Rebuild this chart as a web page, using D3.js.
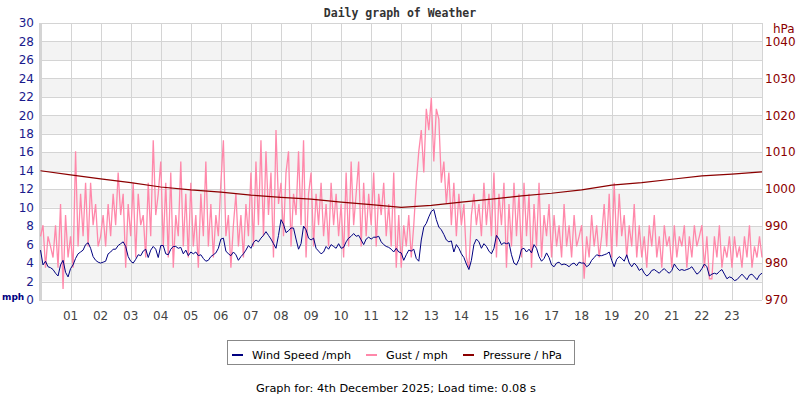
<!DOCTYPE html>
<html>
<head>
<meta charset="utf-8">
<script src="https://cdn.jsdelivr.net/npm/d3@7/dist/d3.min.js"></script>
<style>
    body { margin: 0; background: #fff; }
    text { font-family: "DejaVu Sans", sans-serif; }
    text.title { font-family: "DejaVu Sans Mono", monospace; }
</style>
</head>
<body>
<svg width="800" height="400"></svg>
<script>
// samples every 5 minutes, 00:00 .. 24:00
var stepsPerHour = 12;

var windSpeed = [
    5.4,3.8,4.2,3.6,3.5,3.3,2.9,2.6,3.8,4.3,3.0,2.5,
    3.4,3.8,4.5,5.0,5.2,5.4,6.0,6.2,5.6,4.7,4.3,4.1,
    4.0,4.1,4.2,5.0,5.2,5.5,5.5,5.9,6.1,6.3,5.8,4.7,
    4.2,4.0,4.4,4.9,4.8,5.3,5.5,4.6,5.4,5.8,5.5,4.6,
    5.9,5.9,5.0,4.9,5.5,5.8,5.8,5.6,5.7,5.0,5.4,4.8,
    5.2,5.0,5.2,4.8,4.9,4.5,4.2,4.3,4.7,4.9,5.1,5.6,
    6.6,6.7,5.3,5.0,4.8,5.2,4.9,4.3,4.7,5.0,5.4,5.9,
    5.6,6.2,6.5,6.3,6.7,7.0,7.4,7.0,6.6,6.1,5.6,7.0,
    8.7,8.2,7.3,7.5,7.8,7.8,6.6,5.5,6.1,8.0,7.6,6.7,
    6.5,6.7,5.6,5.3,5.0,5.2,5.8,5.5,6.0,5.8,5.6,6.1,
    5.6,5.7,6.3,6.7,6.9,7.2,6.9,7.0,6.5,6.0,6.6,6.8,
    6.6,6.8,6.8,6.9,6.3,6.0,5.8,5.7,5.5,5.2,5.6,5.2,
    5.1,4.3,4.9,5.4,5.3,5.5,4.5,4.2,6.5,7.9,8.3,9.0,
    9.6,9.8,8.7,7.9,7.6,7.1,6.5,6.3,6.4,5.2,6.0,5.6,
    5.0,4.6,3.9,3.3,4.3,6.0,6.6,6.3,5.6,6.1,5.8,5.3,
    5.0,5.6,7.0,6.6,6.0,6.2,6.1,6.2,4.9,4.0,3.8,4.4,
    5.5,5.6,5.2,5.5,5.1,6.0,5.6,4.7,4.2,4.5,5.1,4.6,
    3.8,3.6,4.0,4.1,3.8,3.9,3.8,3.6,3.9,4.0,3.7,4.1,
    4.0,4.0,3.6,3.8,4.3,4.6,4.9,4.8,4.8,4.9,5.0,5.2,
    4.3,3.6,4.4,4.7,4.5,4.2,4.9,4.0,3.6,4.0,3.7,3.2,
    3.4,2.9,2.6,2.8,3.2,3.3,3.1,2.9,3.2,3.4,3.1,2.9,
    3.2,3.9,3.5,3.2,3.3,3.2,3.3,3.4,3.6,3.2,2.8,3.0,
    3.4,3.9,3.6,2.6,2.8,2.9,2.8,3.1,3.3,2.8,2.3,2.5,
    2.4,2.1,2.2,2.5,2.8,2.5,2.2,2.7,2.8,2.5,2.2,2.7,2.9
];

var gust = [
    6.9,8.1,3.5,6.9,5.8,4.6,8.1,3.5,10.4,1.2,9.2,4.6,
    6.9,3.5,16.1,5.8,11.5,6.9,12.7,5.8,12.7,8.1,10.4,5.8,
    6.9,9.2,5.8,10.4,6.9,11.5,8.1,13.8,9.2,11.5,3.5,10.4,
    6.9,12.7,4.6,11.5,8.1,9.2,4.6,12.7,6.9,17.3,9.2,11.5,
    15.0,5.8,12.7,4.6,13.8,3.5,9.2,6.9,15.0,5.8,11.5,4.6,
    12.7,5.8,9.2,3.5,11.5,6.9,15.0,5.8,10.4,4.6,9.2,6.9,
    12.7,17.3,6.9,9.2,3.5,8.1,11.5,5.8,9.2,4.6,10.4,6.9,
    13.8,5.8,15.0,8.1,17.3,6.9,16.1,9.2,13.8,4.6,18.4,10.4,
    12.7,6.9,13.8,16.1,5.8,11.5,9.2,16.1,8.1,17.3,4.6,11.5,
    13.8,5.8,11.5,8.1,12.7,6.9,10.4,5.8,12.7,8.1,11.5,6.9,
    10.4,4.6,13.8,5.8,15.0,8.1,11.5,15.0,5.8,12.7,6.9,11.5,
    8.1,13.8,5.8,11.5,9.2,12.7,6.9,10.4,5.8,13.8,3.5,9.2,
    3.5,8.1,5.8,9.2,4.6,8.1,12.7,16.1,18.4,13.8,20.7,18.4,
    21.9,15.0,20.7,19.6,12.7,15.0,10.4,13.8,8.1,12.7,6.9,11.5,
    8.1,10.4,4.6,3.5,9.2,11.5,8.1,10.4,6.9,12.7,8.1,11.5,
    6.9,13.8,4.6,11.5,8.1,12.7,3.5,10.4,5.8,12.7,6.9,11.5,
    4.6,12.7,6.9,11.5,3.5,10.4,5.8,12.7,4.6,9.2,6.9,10.4,
    4.6,9.2,5.8,8.1,4.6,10.4,5.8,8.1,4.6,9.2,5.8,6.9,
    8.1,2.3,6.9,4.6,9.2,5.8,8.1,4.6,6.9,10.4,5.8,11.5,
    4.6,12.7,5.8,11.5,6.9,9.2,4.6,8.1,5.8,10.4,4.6,8.1,
    4.6,6.9,3.5,8.1,5.8,9.2,4.6,6.9,3.5,8.1,5.8,6.9,
    3.5,8.1,4.6,6.9,5.8,8.1,3.5,6.9,4.6,8.1,5.8,6.9,
    8.1,3.5,6.9,2.3,2.3,6.9,4.6,8.1,3.5,5.8,4.6,6.9,
    3.5,6.9,4.6,5.8,3.5,6.9,4.6,8.1,3.5,5.8,4.6,6.9,4.6
];

// hourly, 00:00 .. 24:00
var pressure = [
    1005.0,1003.9,1002.8,1001.8,1000.6,999.8,999.2,998.4,997.8,997.3,996.5,995.8,
    995.1,995.6,996.5,997.3,998.2,998.9,999.8,1001.1,1001.8,1002.7,1003.6,1004.1,1004.7
];

var hourLabels = ["01","02","03","04","05","06","07","08","09","10","11","12",
    "13","14","15","16","17","18","19","20","21","22","23"];
var mphTicks = [0,2,4,6,8,10,12,14,16,18,20,22,24,26,28,30];
var hpaTicks = [970,980,990,1000,1010,1020,1030,1040];
var legendItems = [
    { label: "Wind Speed /mph", color: "#000080" },
    { label: "Gust / mph", color: "#ff88aa" },
    { label: "Pressure / hPa", color: "#8b0000" }
];

function drawChart() {
    var pLeft = 40, pRight = 762, pTop = 23, pBottom = 300;

    var svg = d3.select("svg");

    var x = d3.scaleLinear().domain([0, 24]).range([pLeft + 0.5, pRight]);
    var yMph = d3.scaleLinear().domain([0, 30]).range([pBottom, pTop]);
    var yHpa = d3.scaleLinear().domain([970, 1045]).range([pBottom, pTop]);

    // alternating bands
    svg.append("g").selectAll("rect")
        .data(mphTicks.filter(function(d) { return d % 4 == 2 && d < 30; }))
        .enter().append("rect")
        .attr("x", pLeft)
        .attr("width", pRight - pLeft)
        .attr("y", function(d) { return yMph(d + 2); })
        .attr("height", function(d) { return yMph(d) - yMph(d + 2); })
        .attr("fill", "#f3f3f3");

    var grid = svg.append("g").attr("stroke", "#d4d4d4").attr("stroke-width", 1);
    grid.selectAll("line.h")
        .data(mphTicks)
        .enter().append("line")
        .attr("class", "h")
        .attr("x1", pLeft).attr("x2", pRight)
        .attr("y1", function(d) { return Math.round(yMph(d)) + 0.5; })
        .attr("y2", function(d) { return Math.round(yMph(d)) + 0.5; });
    grid.selectAll("line.v")
        .data(hourLabels)
        .enter().append("line")
        .attr("class", "v")
        .attr("x1", function(d) { return Math.round(x(+d)) + 0.5; })
        .attr("x2", function(d) { return Math.round(x(+d)) + 0.5; })
        .attr("y1", pTop).attr("y2", pBottom);
    grid.append("line")
        .attr("x1", pRight + 0.5).attr("x2", pRight + 0.5)
        .attr("y1", pTop).attr("y2", pBottom);
    grid.append("line")
        .attr("x1", pLeft + 0.5).attr("x2", pLeft + 0.5)
        .attr("y1", pTop).attr("y2", pBottom + 1)
        .attr("stroke-width", 3);

    // series
    var line5min = d3.line()
        .x(function(d, i) { return x(i / stepsPerHour); })
        .y(function(d) { return yMph(d); });
    svg.append("path")
        .attr("d", line5min(gust))
        .attr("fill", "none")
        .attr("stroke", "#ff88aa")
        .attr("stroke-width", 1.3);

    svg.append("path")
        .attr("d", line5min(windSpeed))
        .attr("fill", "none")
        .attr("stroke", "#000080")
        .attr("stroke-width", 1);

    var pressLine = d3.line()
        .x(function(d, i) { return x(i); })
        .y(function(d) { return yHpa(d); });
    svg.append("path")
        .attr("d", pressLine(pressure))
        .attr("fill", "none")
        .attr("stroke", "#8b0000")
        .attr("stroke-width", 1.2);

    // axis labels
    svg.append("g").selectAll("text")
        .data(mphTicks)
        .enter().append("text")
        .attr("x", 34)
        .attr("y", function(d) { return yMph(d); })
        .attr("dy", "0.35em")
        .attr("text-anchor", "end")
        .attr("font-size", 12)
        .attr("fill", "#1a1a8c")
        .text(function(d) { return d; });

    svg.append("g").selectAll("text")
        .data(hpaTicks)
        .enter().append("text")
        .attr("x", 765)
        .attr("y", function(d) { return yHpa(d); })
        .attr("dy", "0.35em")
        .attr("font-size", 12)
        .attr("fill", "#8b0000")
        .text(function(d) { return d; });

    svg.append("g").selectAll("text")
        .data(hourLabels)
        .enter().append("text")
        .attr("x", function(d) { return x(+d); })
        .attr("y", 320)
        .attr("text-anchor", "middle")
        .attr("font-size", 12)
        .attr("fill", "#444")
        .text(function(d) { return d; });

    svg.append("text")
        .attr("x", 2).attr("y", 299.5)
        .attr("font-size", 9)
        .attr("font-weight", "bold")
        .attr("fill", "#000080")
        .text("mph");

    svg.append("text")
        .attr("x", 773).attr("y", 33)
        .attr("font-size", 12)
        .attr("fill", "#8b0000")
        .text("hPa");

    svg.append("text")
        .attr("class", "title")
        .attr("x", 400).attr("y", 17)
        .attr("text-anchor", "middle")
        .attr("font-weight", "bold")
        .attr("font-size", 11.5)
        .attr("fill", "#333")
        .text("Daily graph of Weather");

    // legend
    svg.append("rect")
        .attr("x", 227.5).attr("y", 340.5)
        .attr("width", 347).attr("height", 24)
        .attr("fill", "#fff")
        .attr("stroke", "#888");

    var legendX = [232, 366, 463];
    var lg = svg.append("g").selectAll("g")
        .data(legendItems)
        .enter().append("g")
        .attr("transform", function(d, i) { return "translate(" + legendX[i] + ",0)"; });
    lg.append("rect")
        .attr("x", 0).attr("y", 354)
        .attr("width", 11).attr("height", 2)
        .attr("fill", function(d) { return d.color; });
    lg.append("text")
        .attr("x", 20).attr("y", 358.5)
        .attr("font-size", 11.2)
        .attr("fill", "#000")
        .text(function(d) { return d.label; });

    svg.append("text")
        .attr("x", 396).attr("y", 392)
        .attr("text-anchor", "middle")
        .attr("font-size", 11.3)
        .attr("fill", "#000")
        .text("Graph for: 4th December 2025; Load time: 0.08 s");
}
drawChart();
</script>
</body>
</html>
